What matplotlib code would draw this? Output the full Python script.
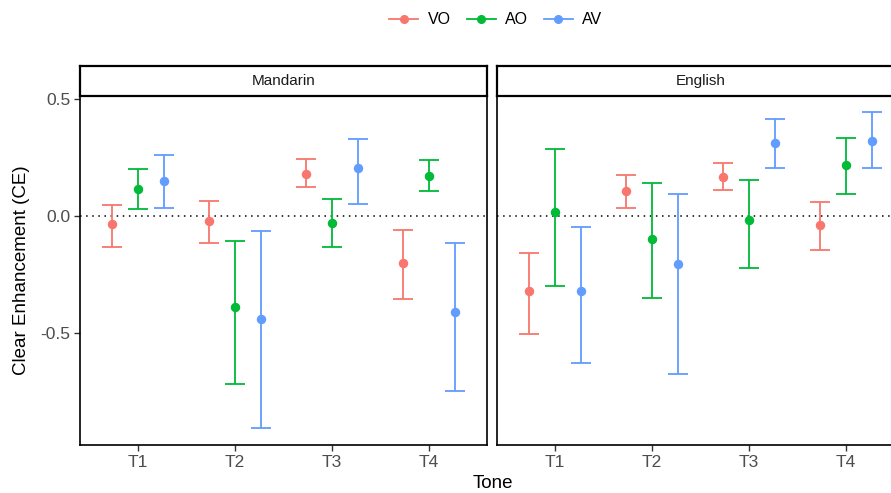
import numpy as np
import matplotlib.pyplot as plt
from matplotlib.lines import Line2D

plt.rcParams['font.family'] = ['Liberation Sans', 'DejaVu Sans']

tones = ['T1', 'T2', 'T3', 'T4']
conditions = ['VO', 'AO', 'AV']
colors = {'VO': '#F8766D', 'AO': '#00BA38', 'AV': '#619CFF'}
panels = ['Mandarin', 'English']

# mean, lower, upper per condition (T1..T4)
mandarin_mean = {'VO': [-0.037, -0.024, 0.179, -0.202],
                 'AO': [0.115, -0.392, -0.030, 0.170],
                 'AV': [0.148, -0.440, 0.205, -0.412]}
mandarin_low = {'VO': [-0.134, -0.116, 0.122, -0.355],
                'AO': [0.028, -0.720, -0.136, 0.104],
                'AV': [0.034, -0.908, 0.050, -0.749]}
mandarin_high = {'VO': [0.044, 0.064, 0.240, -0.063],
                 'AO': [0.199, -0.109, 0.071, 0.237],
                 'AV': [0.260, -0.064, 0.328, -0.119]}

english_mean = {'VO': [-0.324, 0.107, 0.166, -0.040],
                'AO': [0.017, -0.098, -0.018, 0.216],
                'AV': [-0.320, -0.206, 0.310, 0.317]}
english_low = {'VO': [-0.507, 0.034, 0.108, -0.149],
               'AO': [-0.301, -0.354, -0.223, 0.094],
               'AV': [-0.629, -0.675, 0.202, 0.205]}
english_high = {'VO': [-0.159, 0.172, 0.224, 0.057],
                'AO': [0.283, 0.141, 0.152, 0.331],
                'AV': [-0.047, 0.091, 0.412, 0.442]}

data = {'Mandarin': (mandarin_mean, mandarin_low, mandarin_high),
        'English': (english_mean, english_low, english_high)}

fig = plt.figure(figsize=(8.91, 4.93), dpi=100)

W, H = 891, 493
panel_left = [80, 497]
panel_w = 407
panel_top, panel_bot = 96, 445
strip_top = 66

dodge = [-0.267, 0.0, 0.267]
x = np.arange(1, 5)

for i, name in enumerate(panels):
    ax = fig.add_axes([panel_left[i] / W, (H - panel_bot) / H,
                       panel_w / W, (panel_bot - panel_top) / H])
    mean, low, high = data[name]
    ax.axhline(0, color='black', linestyle=(0, (1, 3)), linewidth=1.1, zorder=1)
    for j, c in enumerate(conditions):
        m = np.array(mean[c])
        lo = np.array(low[c])
        hi = np.array(high[c])
        ax.errorbar(x + dodge[j], m, yerr=[m - lo, hi - m], fmt='o',
                    color=colors[c], markersize=5.8, elinewidth=1.3,
                    capsize=7, capthick=1.3, zorder=3)
    ax.set_xlim(0.4, 4.6)
    ax.set_ylim(-0.98, 0.511)
    ax.set_xticks(x)
    ax.set_xticklabels(tones)
    ax.set_yticks([-0.5, 0.0, 0.5])
    if i == 0:
        ax.set_yticklabels(['-0.5', '0.0', '0.5'])
        ax.tick_params(axis='y', length=4, width=1, color='#333333',
                       labelsize=12.5, labelcolor='#4D4D4D', pad=3)
    else:
        ax.tick_params(axis='y', left=False, labelleft=False)
    ax.tick_params(axis='x', length=4, width=1, color='#333333',
                   labelsize=12.5, labelcolor='#4D4D4D', pad=3)
    for s in ax.spines.values():
        s.set_color('black')
        s.set_linewidth(1.2)

    strip = fig.add_axes([panel_left[i] / W, (H - panel_top) / H,
                          panel_w / W, (panel_top - strip_top) / H])
    strip.set_xticks([])
    strip.set_yticks([])
    for s in strip.spines.values():
        s.set_color('black')
        s.set_linewidth(1.6)
    strip.text(0.5, 0.5, name, ha='center', va='center', fontsize=11,
               color='#1A1A1A', transform=strip.transAxes)

fig.text(22 / W, 1 - 270 / H, 'Clear Enhancement (CE)', rotation=90,
         ha='center', va='center', fontsize=13.5)
fig.text(493 / W, 1 - 484 / H, 'Tone', ha='center', va='center', fontsize=13.5)

handles = [Line2D([0], [0], color=colors[c], marker='o', markersize=5.5,
                  linewidth=1.3) for c in conditions]
fig.legend(handles, conditions, loc='center', bbox_to_anchor=(496 / W, 1 - 20 / H),
           ncol=3, frameon=False, fontsize=11.5, handlelength=1.8,
           columnspacing=1.0, handletextpad=0.6)

fig.savefig('out.png', dpi=100)
